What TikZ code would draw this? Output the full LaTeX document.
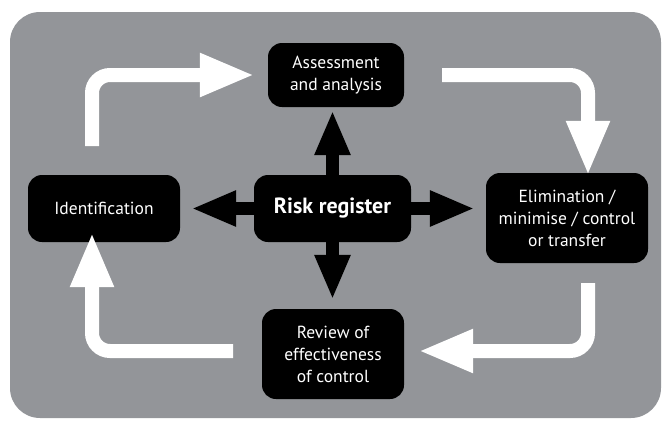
\documentclass[tikz,border=0pt]{standalone}
\usepackage{fontspec}
\setmainfont{PT Sans}
\usetikzlibrary{arrows.meta}
\definecolor{bggray}{RGB}{147,149,153}
\tikzset{
  box/.style={fill=black, text=white, rounded corners=14pt, align=center, inner sep=0pt,
    font=\fontsize{17.5}{22}\selectfont},
  blackarrow/.style={line width=13pt, -{Triangle[length=45pt,width=33pt]}},
  whitearrow/.style={white, line width=14pt, rounded corners=18pt, -{Triangle[length=55pt,width=40pt]}}
}
\begin{document}
\begin{tikzpicture}[x=1pt,y=-1pt]
\useasboundingbox (0,0) rectangle (662,421);
\fill[bggray, rounded corners=30pt] (10,12) rectangle (661,418);

\node[box, minimum width=136pt, minimum height=64pt] (assess) at (336,75) {Assessment\\and analysis};
\node[box, minimum width=152pt, minimum height=67pt] (ident) at (104,208.5) {Identification};
\node[box, minimum width=157pt, minimum height=67pt, font=\fontsize{22}{26}\selectfont\bfseries] (risk) at (332.5,208.5) {Risk register};
\node[box, minimum width=162pt, minimum height=90pt] (elim) at (567,218) {Elimination /\\minimise / control\\or transfer};
\node[box, minimum width=142pt, minimum height=90pt] (review) at (333,354) {Review of\\effectiveness\\of control};

\draw[blackarrow, shorten >=3pt] (risk.north) -- (risk.north |- assess.south);
\draw[blackarrow, shorten >=9pt] (risk.south) -- (risk.south |- review.north);
\draw[blackarrow, shorten >=11pt] (risk.west) -- (ident.east);
\draw[blackarrow, shorten >=11pt] (risk.east) -- (elim.west |- risk.east);

\coordinate (s1) at (92,146);
\coordinate (s2) at (442,75);
\coordinate (c2) at (588,75);
\coordinate (s3) at (588,283);
\coordinate (c3) at (588,351);
\coordinate (s4) at (233,351);
\coordinate (c4) at (92,351);

\draw[whitearrow, shorten >=13pt] (s1) |- (assess.west);
\draw[whitearrow] (s2) -- (c2) -- ([yshift=-3pt]c2 |- elim.north);
\draw[whitearrow, shorten >=14pt] (s3) -- (c3) -- (c3 -| review.east);
\draw[whitearrow] (s4) -- (c4) -- ([yshift=10pt]c4 |- ident.south);
\end{tikzpicture}
\end{document}
